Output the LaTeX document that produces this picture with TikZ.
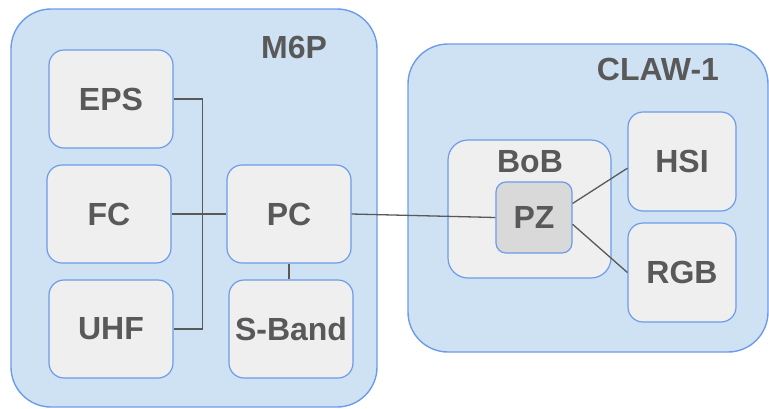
\documentclass[tikz,border=0pt]{standalone}
\usepackage{fontspec}
\setmainfont{Liberation Sans}
\usetikzlibrary{positioning,calc}
\definecolor{groupbg}{HTML}{CFE2F3}
\definecolor{groupline}{HTML}{6C9CE8}
\definecolor{unitbg}{HTML}{EFEFEF}
\definecolor{corebg}{HTML}{D9D9D9}
\definecolor{ink}{HTML}{595959}

\tikzset{
  group/.style={draw=groupline, line width=1.4pt, fill=groupbg, rounded corners=40pt, inner sep=0pt},
  unit/.style={draw=groupline, line width=1.2pt, fill=unitbg, rounded corners=15pt, inner sep=0pt,
    text=ink, font=\fontsize{32}{36}\selectfont\bfseries},
  title/.style={text=ink, font=\fontsize{32}{36}\selectfont\bfseries},
  wire/.style={draw=ink, line width=1.3pt}
}

\begin{document}
\begin{tikzpicture}[x=1pt, y=-1pt]
  \useasboundingbox (0,0) rectangle (769,408);

  % Satellite bus and payload enclosures
  \node[group, minimum width=366pt, minimum height=398pt] (m6p) at (194,208) {};
  \node[group, minimum width=360pt, minimum height=308pt] (claw) at (588,198) {};
  \node[title] (m6pname) at (294,47) {M6P};
  \node[title] (clawname) at (658,69) {CLAW-1};

  % M6P subsystems
  \node[unit, minimum width=124pt, minimum height=98pt] (eps) at (111,99) {EPS};
  \node[unit, minimum width=124pt, minimum height=98pt] (fc) at (109,214) {FC};
  \node[unit, minimum width=124pt, minimum height=98pt] (uhf) at (111,329) {UHF};
  \node[unit, minimum width=124pt, minimum height=98pt] (pc) at (289,214) {PC};
  \node[unit, minimum width=124pt, minimum height=98pt] (sband) at (291,329) {S-Band};

  % CLAW-1 payload
  \node[unit, rounded corners=20pt, minimum width=163pt, minimum height=138pt] (bob) at (529.5,209) {};
  \node[title] (bobname) at (530,162) {BoB};
  \node[unit, fill=corebg, rounded corners=10pt, minimum width=76pt, minimum height=71pt] (pz) at (534,217.5) {PZ};
  \node[unit, minimum width=108pt, minimum height=99pt] (hsi) at (682,161.5) {HSI};
  \node[unit, minimum width=108pt, minimum height=99pt] (rgb) at (682,272.5) {RGB};

  % Wiring
  \draw[wire] (eps.east) -- ++(29,0) |- (uhf.east);
  \draw[wire] (fc.east) -- (pc.west);
  \draw[wire] (pc.south) -- (pc.south |- sband.north);
  \draw[wire] (pc.east) -- (pz.west);
  \draw[wire] (pz.20) -- (hsi.187);
  \draw[wire] (pz.-10) -- (rgb.west);
\end{tikzpicture}
\end{document}
